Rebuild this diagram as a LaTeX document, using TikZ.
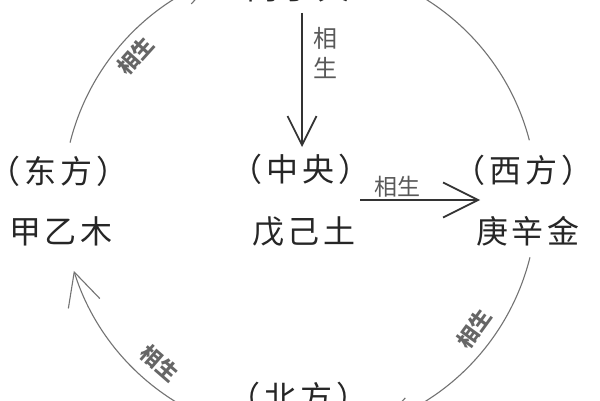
\documentclass[tikz,border=0pt]{standalone}
\usepackage{fontspec}
\newfontfamily\cjk{Noto Sans CJK SC}
\usetikzlibrary{arrows.meta}
\newcommand\kjg{\hspace{3.5pt}}
\newcommand\kjp{\hspace{4pt}}
\newcommand\kjt{\hspace{-7pt}}
\begin{document}
\begin{tikzpicture}[x=1pt,y=1pt,
  main/.style={font=\cjk\fontsize{32}{34}\selectfont, inner sep=0pt, text=black!85},
  arclabel/.style={font=\cjk\bfseries\fontsize{21}{22}\selectfont, text=black!60, inner sep=0pt},
  linelabel/.style={font=\cjk\fontsize{24}{30}\selectfont, text=black!65, inner sep=0pt, align=center},
  ring/.style={draw=black!55, line width=1.1pt},
  shaft/.style={draw=black!80, line width=1.7pt},
  barb/.style={-{Straight Barb[length=#1,width=#1]}}
]
\useasboundingbox (0,0) rectangle (600,400);
\clip (0,0) rectangle (600,400);
\fill[white] (0,0) rectangle (600,400);
\coordinate (c) at (300,200);

% nodes
\node[main] (huo) at (298,412) {丙\kjg 丁\kjg 火};
\node[main] (dong) at (62,229) {\kjt（\kjp 东\kjp 方\kjp ）\kjt};
\node[main] (mu) at (61,169) {甲\kjg 乙\kjg 木};
\node[main] (zhong) at (304,231) {\kjt（\kjp 中\kjp 央\kjp ）\kjt};
\node[main] (tu) at (304,168) {戊\kjg 己\kjg 土};
\node[main] (xi) at (527,230) {\kjt（\kjp 西\kjp 方\kjp ）\kjt};
\node[main] (jin) at (528,169) {庚\kjg 辛\kjg 金};
\node[main] (bei) at (302,3) {\kjt（\kjp 北\kjp 方\kjp ）\kjt};

% ring arcs
\draw[ring, barb=30pt] (c) ++(166:237) arc[start angle=166, end angle=111, radius=237];
\draw[ring] (c) ++(75:237) arc[start angle=75, end angle=14.6, radius=237];
\draw[ring, barb=30pt] (c) ++(-14:237) arc[start angle=-14, end angle=-70, radius=237];
\draw[ring, barb=33pt] (c) ++(250:237) arc[start angle=250, end angle=197.4, radius=237];

% arc labels
\node[arclabel, rotate=48] (l1) at (136,344) {相生};
\node[arclabel, rotate=54] (l3) at (474,71) {相生};
\node[arclabel, rotate=-41] (l4) at (160,37) {相生};

% straight arrows
\coordinate (v1) at (302,387);
\coordinate (v2) at (302,253);
\draw[shaft, barb=29pt] (v1) -- (v2);
\node[linelabel] (lv) at (325,347) {相\\生};

\coordinate (h1) at (360,200);
\coordinate (h2) at (480,200);
\draw[shaft, barb=35pt] (h1) -- (h2);
\node[linelabel, font=\cjk\fontsize{23}{24}\selectfont] (lh) at (397,213) {相生};
\end{tikzpicture}
\end{document}
